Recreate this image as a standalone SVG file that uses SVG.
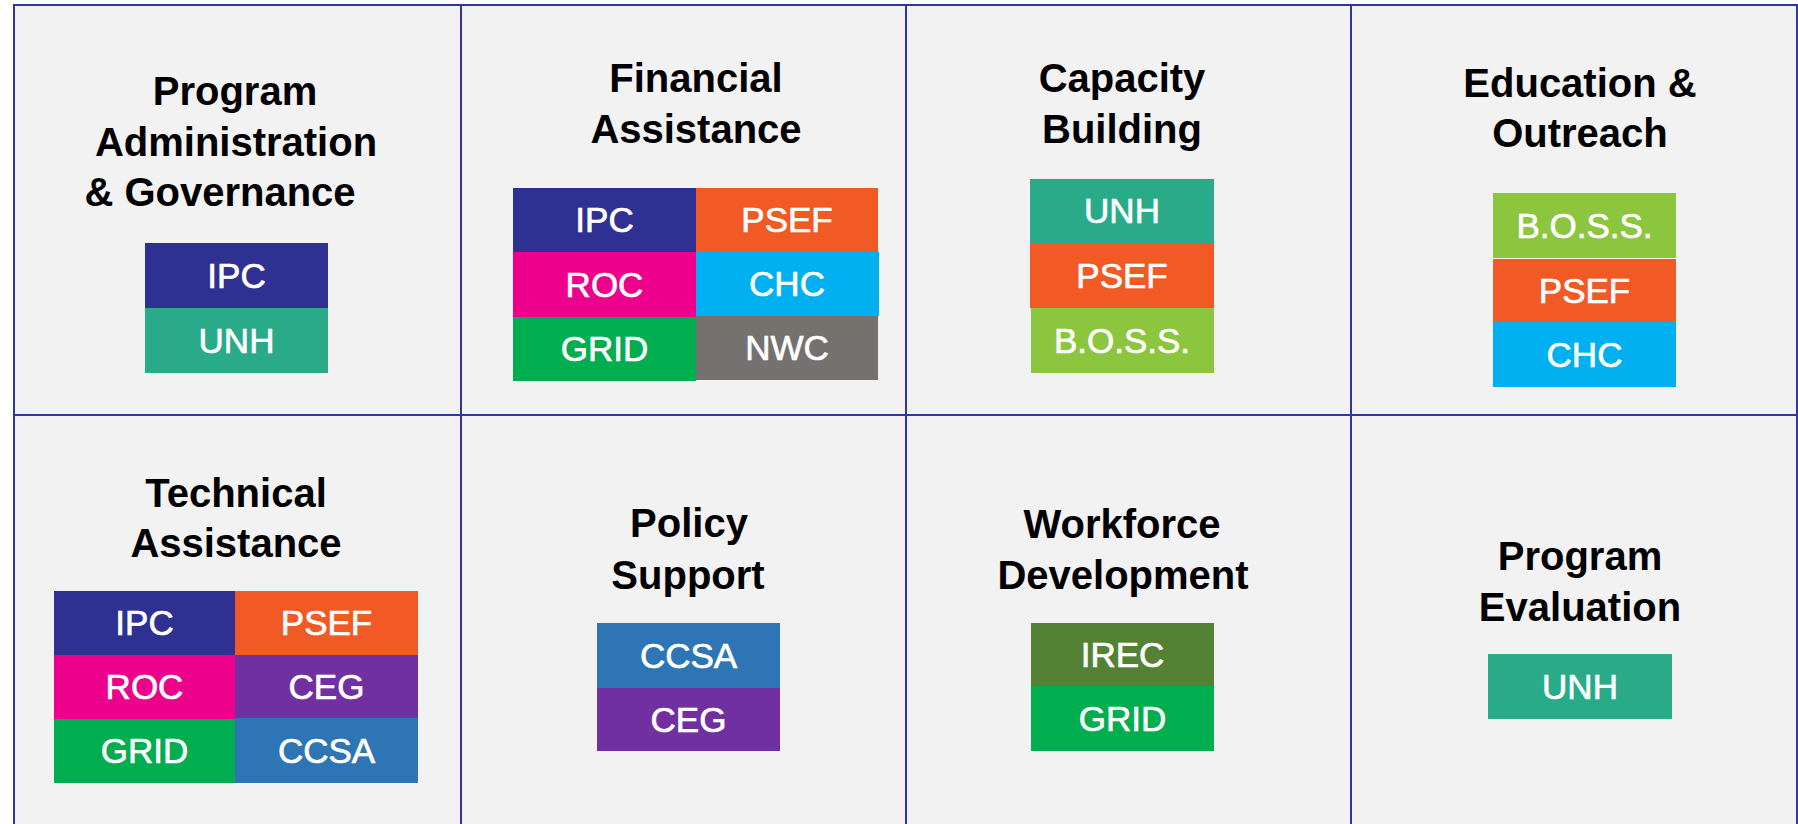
<svg xmlns="http://www.w3.org/2000/svg" width="1798" height="824" viewBox="0 0 1798 824">
<style>
.title{font-family:"Liberation Sans",Arial,sans-serif;font-weight:bold;font-size:40px;fill:#000;text-anchor:middle}
.chip{font-family:"Liberation Sans",Arial,sans-serif;font-size:35px;fill:#fff;stroke:#fff;stroke-width:0.7;text-anchor:middle}
.grid line{stroke:#323694;stroke-width:2}
.ipc{fill:#2e3192}.unh{fill:#29ab89}.psef{fill:#f15a24}.roc{fill:#ec008c}.chc{fill:#00b0f0}
.grd{fill:#00ad4f}.nwc{fill:#767171}.boss{fill:#8cc63f}.ceg{fill:#7030a0}.ccsa{fill:#2e75b6}.irec{fill:#548235}
</style>
<rect x="0" y="0" width="1798" height="824" fill="#ffffff"/>
<rect x="14" y="5" width="1783" height="819" fill="#f2f2f2"/>
<g id="connectors" class="grid">
<line x1="14" y1="5" x2="14" y2="824"/>
<line x1="461" y1="5" x2="461" y2="824"/>
<line x1="906" y1="5" x2="906" y2="824"/>
<line x1="1351" y1="5" x2="1351" y2="824"/>
<line x1="1797" y1="5" x2="1797" y2="824"/>
<line x1="13" y1="5" x2="1798" y2="5"/>
<line x1="13" y1="415" x2="1798" y2="415"/>
</g>
<g id="program-administration">
<text class="title" x="235" y="105">Program</text>
<text class="title" x="236" y="156">Administration</text>
<text class="title" x="220" y="206">&amp; Governance</text>
<rect class="ipc" x="145" y="243" width="183" height="65"/><text class="chip" x="236.5" y="288">IPC</text>
<rect class="unh" x="145" y="308" width="183" height="65"/><text class="chip" x="236.5" y="353">UNH</text>
</g>
<g id="financial-assistance">
<text class="title" x="696" y="92">Financial</text>
<text class="title" x="696" y="143">Assistance</text>
<rect class="ipc" x="513" y="188" width="183" height="64"/><text class="chip" x="604.5" y="232">IPC</text>
<rect class="psef" x="696" y="188" width="182" height="64"/><text class="chip" x="787" y="232">PSEF</text>
<rect class="roc" x="513" y="252" width="183" height="65"/><text class="chip" x="604.5" y="297">ROC</text>
<rect class="chc" x="696" y="252" width="183" height="64"/><text class="chip" x="787" y="296">CHC</text>
<rect class="grd" x="513" y="317" width="183" height="64"/><text class="chip" x="604.5" y="361">GRID</text>
<rect class="nwc" x="696" y="316" width="182" height="64"/><text class="chip" x="787" y="360">NWC</text>
</g>
<g id="capacity-building">
<text class="title" x="1122" y="92">Capacity</text>
<text class="title" x="1122" y="143">Building</text>
<rect class="unh" x="1030" y="179" width="184" height="64"/><text class="chip" x="1122" y="223">UNH</text>
<rect class="psef" x="1030" y="243" width="184" height="65"/><text class="chip" x="1122" y="288">PSEF</text>
<rect class="boss" x="1031" y="308" width="183" height="65"/><text class="chip" x="1122" y="353">B.O.S.S.</text>
</g>
<g id="education-outreach">
<text class="title" x="1580" y="97">Education &amp;</text>
<text class="title" x="1580" y="147">Outreach</text>
<rect class="boss" x="1493" y="193" width="183" height="65"/><text class="chip" x="1584.5" y="238">B.O.S.S.</text>
<rect class="psef" x="1493" y="259" width="183" height="63"/><text class="chip" x="1584.5" y="303">PSEF</text>
<rect class="chc" x="1493" y="322" width="183" height="65"/><text class="chip" x="1584.5" y="367">CHC</text>
</g>
<g id="technical-assistance">
<text class="title" x="236" y="507">Technical</text>
<text class="title" x="236" y="557">Assistance</text>
<rect class="ipc" x="54" y="591" width="181" height="64"/><text class="chip" x="144.5" y="635">IPC</text>
<rect class="psef" x="235" y="591" width="183" height="64"/><text class="chip" x="326.5" y="635">PSEF</text>
<rect class="roc" x="54" y="655" width="181" height="64"/><text class="chip" x="144.5" y="699">ROC</text>
<rect class="ceg" x="235" y="655" width="183" height="63"/><text class="chip" x="326.5" y="699">CEG</text>
<rect class="grd" x="54" y="719" width="181" height="64"/><text class="chip" x="144.5" y="763">GRID</text>
<rect class="ccsa" x="235" y="718" width="183" height="65"/><text class="chip" x="326.5" y="763">CCSA</text>
</g>
<g id="policy-support">
<text class="title" x="689" y="537">Policy</text>
<text class="title" x="688" y="589">Support</text>
<rect class="ccsa" x="597" y="623" width="183" height="65"/><text class="chip" x="688.5" y="668">CCSA</text>
<rect class="ceg" x="597" y="688" width="183" height="63"/><text class="chip" x="688.5" y="732">CEG</text>
</g>
<g id="workforce-development">
<text class="title" x="1122" y="538">Workforce</text>
<text class="title" x="1123" y="589">Development</text>
<rect class="irec" x="1031" y="623" width="183" height="63"/><text class="chip" x="1122.5" y="667">IREC</text>
<rect class="grd" x="1031" y="686" width="183" height="65"/><text class="chip" x="1122.5" y="731">GRID</text>
</g>
<g id="program-evaluation">
<text class="title" x="1580" y="570">Program</text>
<text class="title" x="1580" y="621">Evaluation</text>
<rect class="unh" x="1488" y="654" width="184" height="65"/><text class="chip" x="1580" y="699">UNH</text>
</g>
</svg>
